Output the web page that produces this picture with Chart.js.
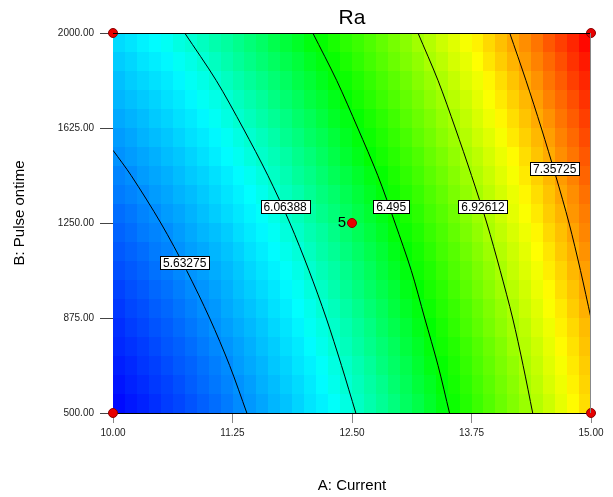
<!DOCTYPE html>
<html>
<head>
<meta charset="utf-8">
<title>Ra</title>
<script src="https://cdn.jsdelivr.net/npm/chart.js@4.4.0/dist/chart.umd.min.js"></script>
<style>
  html, body { margin: 0; padding: 0; background: #fff; }
  #wrap { width: 613px; height: 497px; }
</style>
</head>
<body>
<div id="wrap"><canvas id="chart" width="613" height="497"></canvas></div>
<script>
// A: Current on x, B: Pulse ontime on y
const currentRange = [10, 15];
const pulseRange = [500, 2000];
const currentTicks = [10, 11.25, 12.5, 13.75, 15];
const pulseTicks = [500, 875, 1250, 1625, 2000];

const ra500 = [5.23,5.27,5.30,5.34,5.38,5.41,5.45,5.49,5.53,5.57,5.62,5.66,5.70,5.75,5.79,5.84,5.89,5.93,5.98,6.03,6.09,6.14,6.19,6.24,6.30,6.35,6.41,6.47,6.53,6.59,6.65,6.71,6.77,6.83,6.89,6.96,7.02,7.09,7.16,7.23];
const ra575 = [5.26,5.30,5.33,5.37,5.40,5.44,5.48,5.52,5.56,5.60,5.64,5.68,5.73,5.77,5.82,5.86,5.91,5.96,6.01,6.06,6.11,6.16,6.21,6.27,6.32,6.38,6.43,6.49,6.55,6.61,6.67,6.73,6.79,6.85,6.92,6.98,7.05,7.11,7.18,7.25];
const ra650 = [5.29,5.32,5.36,5.39,5.43,5.47,5.50,5.54,5.58,5.62,5.67,5.71,5.75,5.80,5.84,5.89,5.93,5.98,6.03,6.08,6.13,6.18,6.24,6.29,6.34,6.40,6.46,6.51,6.57,6.63,6.69,6.75,6.81,6.87,6.94,7.00,7.07,7.13,7.20,7.27];
const ra725 = [5.32,5.35,5.38,5.42,5.46,5.49,5.53,5.57,5.61,5.65,5.69,5.73,5.78,5.82,5.87,5.91,5.96,6.01,6.06,6.11,6.16,6.21,6.26,6.31,6.37,6.42,6.48,6.54,6.59,6.65,6.71,6.77,6.83,6.90,6.96,7.02,7.09,7.16,7.22,7.29];
const ra800 = [5.34,5.38,5.41,5.45,5.48,5.52,5.56,5.60,5.64,5.68,5.72,5.76,5.80,5.85,5.89,5.94,5.99,6.03,6.08,6.13,6.18,6.23,6.29,6.34,6.39,6.45,6.50,6.56,6.62,6.68,6.74,6.80,6.86,6.92,6.98,7.05,7.11,7.18,7.24,7.31];
const ra875 = [5.37,5.41,5.44,5.48,5.51,5.55,5.59,5.63,5.66,5.71,5.75,5.79,5.83,5.88,5.92,5.97,6.01,6.06,6.11,6.16,6.21,6.26,6.31,6.37,6.42,6.47,6.53,6.59,6.64,6.70,6.76,6.82,6.88,6.94,7.01,7.07,7.14,7.20,7.27,7.34];
const ra950 = [5.40,5.44,5.47,5.51,5.54,5.58,5.62,5.65,5.69,5.73,5.78,5.82,5.86,5.90,5.95,5.99,6.04,6.09,6.14,6.19,6.24,6.29,6.34,6.39,6.45,6.50,6.56,6.61,6.67,6.73,6.79,6.85,6.91,6.97,7.03,7.10,7.16,7.23,7.29,7.36];
const ra1025 = [5.44,5.47,5.50,5.54,5.57,5.61,5.65,5.68,5.72,5.76,5.80,5.85,5.89,5.93,5.98,6.02,6.07,6.12,6.16,6.21,6.26,6.31,6.37,6.42,6.47,6.53,6.58,6.64,6.70,6.75,6.81,6.87,6.93,7.00,7.06,7.12,7.19,7.25,7.32,7.38];
const ra1100 = [5.47,5.50,5.53,5.57,5.60,5.64,5.68,5.71,5.75,5.79,5.83,5.88,5.92,5.96,6.01,6.05,6.10,6.15,6.19,6.24,6.29,6.34,6.39,6.45,6.50,6.55,6.61,6.67,6.72,6.78,6.84,6.90,6.96,7.02,7.08,7.15,7.21,7.28,7.34,7.41];
const ra1175 = [5.50,5.53,5.57,5.60,5.63,5.67,5.71,5.75,5.78,5.82,5.87,5.91,5.95,5.99,6.04,6.08,6.13,6.17,6.22,6.27,6.32,6.37,6.42,6.48,6.53,6.58,6.64,6.69,6.75,6.81,6.87,6.93,6.99,7.05,7.11,7.17,7.24,7.30,7.37,7.44];
const ra1250 = [5.53,5.56,5.60,5.63,5.67,5.70,5.74,5.78,5.82,5.86,5.90,5.94,5.98,6.02,6.07,6.11,6.16,6.21,6.25,6.30,6.35,6.40,6.45,6.50,6.56,6.61,6.67,6.72,6.78,6.84,6.90,6.95,7.02,7.08,7.14,7.20,7.27,7.33,7.40,7.46];
const ra1325 = [5.57,5.60,5.63,5.67,5.70,5.74,5.77,5.81,5.85,5.89,5.93,5.97,6.01,6.06,6.10,6.14,6.19,6.24,6.28,6.33,6.38,6.43,6.48,6.54,6.59,6.64,6.70,6.75,6.81,6.87,6.92,6.98,7.04,7.10,7.17,7.23,7.29,7.36,7.42,7.49];
const ra1400 = [5.60,5.63,5.67,5.70,5.73,5.77,5.81,5.84,5.88,5.92,5.96,6.00,6.04,6.09,6.13,6.18,6.22,6.27,6.32,6.36,6.41,6.46,6.51,6.57,6.62,6.67,6.73,6.78,6.84,6.90,6.95,7.01,7.07,7.13,7.20,7.26,7.32,7.39,7.45,7.52];
const ra1475 = [5.64,5.67,5.70,5.73,5.77,5.80,5.84,5.88,5.92,5.96,6.00,6.04,6.08,6.12,6.16,6.21,6.25,6.30,6.35,6.40,6.45,6.50,6.55,6.60,6.65,6.70,6.76,6.81,6.87,6.93,6.98,7.04,7.10,7.16,7.23,7.29,7.35,7.42,7.48,7.55];
const ra1550 = [5.67,5.70,5.74,5.77,5.80,5.84,5.88,5.91,5.95,5.99,6.03,6.07,6.11,6.15,6.20,6.24,6.29,6.33,6.38,6.43,6.48,6.53,6.58,6.63,6.68,6.74,6.79,6.85,6.90,6.96,7.02,7.07,7.13,7.20,7.26,7.32,7.38,7.45,7.51,7.58];
const ra1625 = [5.71,5.74,5.77,5.81,5.84,5.88,5.91,5.95,5.99,6.03,6.07,6.11,6.15,6.19,6.23,6.28,6.32,6.37,6.42,6.46,6.51,6.56,6.61,6.66,6.72,6.77,6.82,6.88,6.93,6.99,7.05,7.11,7.17,7.23,7.29,7.35,7.41,7.48,7.54,7.61];
const ra1700 = [5.75,5.78,5.81,5.84,5.88,5.91,5.95,5.99,6.02,6.06,6.10,6.14,6.18,6.23,6.27,6.31,6.36,6.40,6.45,6.50,6.55,6.60,6.65,6.70,6.75,6.80,6.86,6.91,6.97,7.02,7.08,7.14,7.20,7.26,7.32,7.38,7.45,7.51,7.57,7.64];
const ra1775 = [5.78,5.82,5.85,5.88,5.91,5.95,5.99,6.02,6.06,6.10,6.14,6.18,6.22,6.26,6.30,6.35,6.39,6.44,6.49,6.53,6.58,6.63,6.68,6.73,6.78,6.84,6.89,6.94,7.00,7.06,7.11,7.17,7.23,7.29,7.35,7.41,7.48,7.54,7.61,7.67];
const ra1850 = [5.82,5.85,5.89,5.92,5.95,5.99,6.02,6.06,6.10,6.14,6.18,6.22,6.26,6.30,6.34,6.38,6.43,6.47,6.52,6.57,6.62,6.67,6.72,6.77,6.82,6.87,6.93,6.98,7.04,7.09,7.15,7.21,7.27,7.33,7.39,7.45,7.51,7.57,7.64,7.70];
const ra1925 = [5.86,5.89,5.93,5.96,5.99,6.03,6.06,6.10,6.14,6.17,6.21,6.25,6.29,6.34,6.38,6.42,6.47,6.51,6.56,6.61,6.65,6.70,6.75,6.80,6.85,6.91,6.96,7.02,7.07,7.13,7.18,7.24,7.30,7.36,7.42,7.48,7.55,7.61,7.67,7.74];
const raRows = [ra500, ra575, ra650, ra725, ra800, ra875, ra950, ra1025, ra1100, ra1175,
                ra1250, ra1325, ra1400, ra1475, ra1550, ra1625, ra1700, ra1775, ra1850, ra1925];

// Ra at which the shading turns blue, cyan, green, yellow, red
const rampStops = [5.20, 5.97, 6.50, 7.15, 7.76];
const rampColors = [[0, 0, 255], [0, 255, 255], [0, 255, 0], [255, 255, 0], [255, 0, 0]];

// contour lines: level, then where each one runs (A, B)
const levels = ['5.63275', '6.06388', '6.495', '6.92612', '7.35725'];
const c1A = [11.40, 11.22, 11.01, 10.77, 10.50, 10.19, 10.00];
const c1B = [500, 687.5, 875, 1062.5, 1250, 1437.5, 1537];
const c2A = [12.54, 12.39, 12.23, 12.05, 11.85, 11.62, 11.36, 11.08, 10.75];
const c3A = [13.52, 13.40, 13.26, 13.12, 12.95, 12.77, 12.56, 12.34, 12.09];
const c4A = [14.39, 14.29, 14.18, 14.05, 13.91, 13.75, 13.58, 13.40, 13.19];
const fullB = [500, 687.5, 875, 1062.5, 1250, 1437.5, 1625, 1812.5, 2000];
const c5A = [15.00, 14.89, 14.77, 14.63, 14.48, 14.32, 14.15];
const c5B = [874, 1062.5, 1250, 1437.5, 1625, 1812.5, 2000];
const labelA = [10.75, 11.80, 12.91, 13.87, 14.62];
const labelB = [1092, 1313, 1313, 1313, 1463];

// design points
const designA = [10, 10, 15, 15, 12.5];
const designB = [500, 2000, 500, 2000, 1250];
const centerRuns = '5';

const pts = (xs, ys) => xs.map((x, i) => ({ x: x, y: ys[i] }));

function rampColor(v) {
  const last = rampStops.length - 1;
  if (v <= rampStops[0]) return 'rgb(' + rampColors[0].join(',') + ')';
  if (v >= rampStops[last]) return 'rgb(' + rampColors[last].join(',') + ')';
  let k = 0;
  while (v > rampStops[k + 1]) k++;
  const f = (v - rampStops[k]) / (rampStops[k + 1] - rampStops[k]);
  const c = rampColors[k].map((s, n) => Math.round(s + (rampColors[k + 1][n] - s) * f));
  return 'rgb(' + c.join(',') + ')';
}

const heatmap = {
  id: 'heatmap',
  beforeDatasetsDraw(chart) {
    const { ctx, scales: { x, y } } = chart;
    const dB = (pulseRange[1] - pulseRange[0]) / raRows.length;
    ctx.save();
    raRows.forEach((row, j) => {
      const dA = (currentRange[1] - currentRange[0]) / row.length;
      const yTop = Math.round(y.getPixelForValue(pulseRange[0] + (j + 1) * dB));
      const yBot = Math.round(y.getPixelForValue(pulseRange[0] + j * dB));
      row.forEach((v, i) => {
        const xl = Math.round(x.getPixelForValue(currentRange[0] + i * dA));
        const xr = Math.round(x.getPixelForValue(currentRange[0] + (i + 1) * dA));
        ctx.fillStyle = rampColor(v);
        ctx.fillRect(xl, yTop, xr - xl, yBot - yTop);
      });
    });
    ctx.restore();
  }
};

const annotations = {
  id: 'annotations',
  afterDatasetsDraw(chart) {
    const { ctx, chartArea: a, scales: { x, y } } = chart;
    ctx.save();
    // frame: top black, right gray
    ctx.lineWidth = 1;
    ctx.strokeStyle = '#000';
    ctx.beginPath();
    ctx.moveTo(a.left, a.top + 0.5);
    ctx.lineTo(a.right, a.top + 0.5);
    ctx.stroke();
    ctx.strokeStyle = '#888';
    ctx.beginPath();
    ctx.moveTo(a.right - 0.5, a.top);
    ctx.lineTo(a.right - 0.5, a.bottom);
    ctx.stroke();

    // contour labels
    ctx.font = '12px Arial';
    ctx.textAlign = 'center';
    ctx.textBaseline = 'middle';
    levels.forEach((txt, i) => {
      const cx = x.getPixelForValue(labelA[i]);
      const cy = y.getPixelForValue(labelB[i]);
      const w = Math.round(ctx.measureText(txt).width) + 6;
      const bx = Math.round(cx - w / 2) + 0.5;
      const by = Math.round(cy - 7) + 0.5;
      ctx.fillStyle = '#fff';
      ctx.fillRect(bx, by, w, 13);
      ctx.strokeStyle = '#000';
      ctx.strokeRect(bx, by, w, 13);
      ctx.fillStyle = '#000';
      ctx.fillText(txt, cx, cy + 0.5);
    });

    // replicate count beside the center point
    ctx.font = '15px Arial';
    ctx.textAlign = 'right';
    ctx.fillText(centerRuns, x.getPixelForValue(designA[4]) - 6, y.getPixelForValue(designB[4]));

    // titles
    ctx.textAlign = 'center';
    ctx.font = '21px Arial';
    ctx.fillText('Ra', (a.left + a.right) / 2, 18);
    ctx.font = '15px Arial';
    ctx.fillText('A: Current', (a.left + a.right) / 2, 486);
    ctx.translate(20, 213);
    ctx.rotate(-Math.PI / 2);
    ctx.fillText('B: Pulse ontime', 0, 0);
    ctx.restore();
  }
};

const contourStyle = {
  showLine: true,
  pointRadius: 0,
  borderColor: '#000',
  borderWidth: 1,
  tension: 0.3,
  fill: false
};

new Chart(document.getElementById('chart'), {
  type: 'scatter',
  data: {
    datasets: [
      {
        label: 'Design points',
        data: pts(designA, designB),
        pointRadius: 4.5,
        pointBackgroundColor: '#e60000',
        pointBorderColor: '#8a0000',
        pointBorderWidth: 1,
        clip: false
      },
      Object.assign({ label: levels[0], data: pts(c1A, c1B) }, contourStyle),
      Object.assign({ label: levels[1], data: pts(c2A, fullB) }, contourStyle),
      Object.assign({ label: levels[2], data: pts(c3A, fullB) }, contourStyle),
      Object.assign({ label: levels[3], data: pts(c4A, fullB) }, contourStyle),
      Object.assign({ label: levels[4], data: pts(c5A, c5B) }, contourStyle)
    ]
  },
  options: {
    responsive: false,
    animation: false,
    events: [],
    layout: { padding: { left: 0, right: 22, top: 33, bottom: 0 } },
    plugins: {
      legend: { display: false },
      tooltip: { enabled: false }
    },
    scales: {
      x: {
        type: 'linear',
        min: currentRange[0],
        max: currentRange[1],
        afterFit: s => { s.height = 84; },
        afterBuildTicks: s => { s.ticks = currentTicks.map(v => ({ value: v })); },
        ticks: {
          callback: v => v.toFixed(2),
          font: { family: 'Arial', size: 10 },
          color: '#222',
          padding: 4,
          maxRotation: 0
        },
        grid: { drawOnChartArea: false, tickLength: 10, color: '#888' },
        border: { color: '#000' }
      },
      y: {
        type: 'linear',
        min: pulseRange[0],
        max: pulseRange[1],
        afterFit: s => { s.width = 113; },
        afterBuildTicks: s => { s.ticks = pulseTicks.map(v => ({ value: v })); },
        ticks: {
          callback: v => v.toFixed(2),
          font: { family: 'Arial', size: 10 },
          color: '#222',
          padding: 6
        },
        grid: { drawOnChartArea: false, tickLength: 13, color: '#444' },
        border: { color: '#888' }
      }
    }
  },
  plugins: [heatmap, annotations]
});
</script>
</body>
</html>
